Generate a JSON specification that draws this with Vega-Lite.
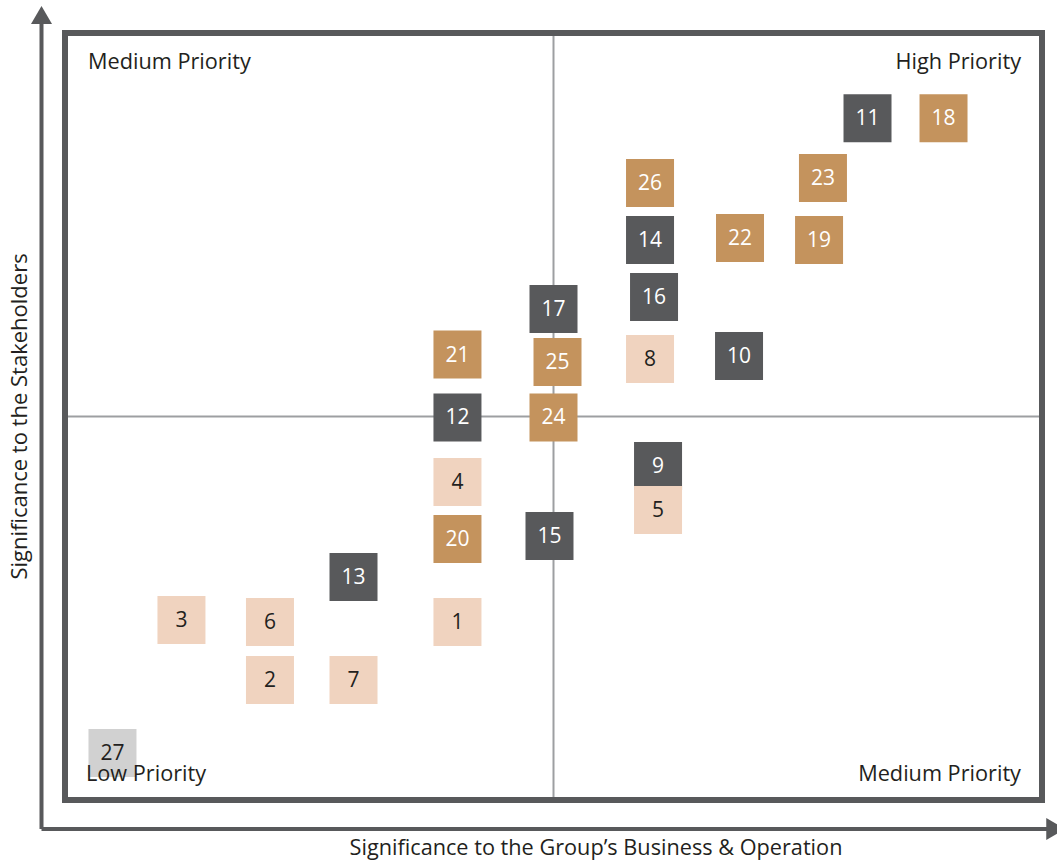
{
  "$schema": "https://vega.github.io/schema/vega-lite/v6.json",
  "width": 1057,
  "height": 862,
  "padding": 0,
  "autosize": "none",
  "background": "white",
  "config": {"view": {"stroke": null}},
  "datasets": {
    "items": [
      {"id": "11", "group": "A", "x": 8.214, "y": 8.888},
      {"id": "18", "group": "B", "x": 8.992, "y": 8.888},
      {"id": "26", "group": "B", "x": 5.988, "y": 8.044},
      {"id": "23", "group": "B", "x": 7.758, "y": 8.110},
      {"id": "14", "group": "A", "x": 5.988, "y": 7.301},
      {"id": "22", "group": "B", "x": 6.909, "y": 7.327},
      {"id": "19", "group": "B", "x": 7.718, "y": 7.301},
      {"id": "16", "group": "A", "x": 6.029, "y": 6.558},
      {"id": "17", "group": "A", "x": 5.0, "y": 6.402},
      {"id": "21", "group": "B", "x": 4.017, "y": 5.808},
      {"id": "25", "group": "B", "x": 5.041, "y": 5.711},
      {"id": "8", "group": "C", "x": 5.988, "y": 5.750},
      {"id": "10", "group": "A", "x": 6.899, "y": 5.789},
      {"id": "12", "group": "A", "x": 4.017, "y": 4.987},
      {"id": "24", "group": "B", "x": 5.0, "y": 4.987},
      {"id": "9", "group": "A", "x": 6.070, "y": 4.355},
      {"id": "5", "group": "C", "x": 6.070, "y": 3.781},
      {"id": "4", "group": "C", "x": 4.017, "y": 4.146},
      {"id": "20", "group": "B", "x": 4.017, "y": 3.403},
      {"id": "15", "group": "A", "x": 4.959, "y": 3.442},
      {"id": "13", "group": "A", "x": 2.953, "y": 2.907},
      {"id": "3", "group": "C", "x": 1.192, "y": 2.347},
      {"id": "6", "group": "C", "x": 2.098, "y": 2.321},
      {"id": "1", "group": "C", "x": 4.017, "y": 2.321},
      {"id": "2", "group": "C", "x": 2.098, "y": 1.565},
      {"id": "7", "group": "C", "x": 2.953, "y": 1.565},
      {"id": "27", "group": "D", "x": 0.486, "y": 0.613}
    ],
    "labels": [
      {"label": "Medium Priority", "x": 0.235, "y": 9.622, "side": "left"},
      {"label": "High Priority", "x": 9.785, "y": 9.622, "side": "right"},
      {"label": "Low Priority", "x": 0.215, "y": 0.339, "side": "left"},
      {"label": "Medium Priority", "x": 9.785, "y": 0.339, "side": "right"}
    ]
  },
  "encoding": {
    "x": {"field": "x", "type": "quantitative", "axis": null,
          "scale": {"domain": [-0.6653, 10.1535], "nice": false, "zero": false}},
    "y": {"field": "y", "type": "quantitative", "axis": null,
          "scale": {"domain": [-0.8083, 10.4302], "nice": false, "zero": false}}
  },
  "layer": [
    {
      "data": {"values": [
        {"x": 5.0, "x2": 5.0, "y": 0, "y2": 10},
        {"x": 0, "x2": 10, "y": 5.0, "y2": 5.0}
      ]},
      "mark": {"type": "rule", "stroke": "#9d9fa2", "strokeWidth": 2},
      "encoding": {"x2": {"field": "x2"}, "y2": {"field": "y2"}}
    },
    {
      "data": {"values": [{"x": 0, "x2": 10, "y": 0, "y2": 10}]},
      "mark": {"type": "rect", "fill": null, "fillOpacity": 0, "stroke": "#58595b", "strokeWidth": 6},
      "encoding": {"x2": {"field": "x2"}, "y2": {"field": "y2"}}
    },
    {
      "data": {"values": [
        {"x": -0.2405, "x2": -0.2405, "y": -0.378, "y2": 10.17},
        {"x": -0.2405, "x2": 10.06, "y": -0.378, "y2": -0.378}
      ]},
      "mark": {"type": "rule", "stroke": "#58595b", "strokeWidth": 4},
      "encoding": {"x2": {"field": "x2"}, "y2": {"field": "y2"}}
    },
    {
      "data": {"values": [{"x": -0.2405, "y": 10.235}]},
      "mark": {"type": "point", "shape": "M-1,0.857L0,-0.857L1,0.857Z", "size": 441, "filled": true, "fill": "#58595b", "opacity": 1, "strokeWidth": 0}
    },
    {
      "data": {"values": [{"x": 10.14, "y": -0.378}]},
      "mark": {"type": "point", "shape": "M-0.857,-1L0.857,0L-0.857,1Z", "size": 484, "filled": true, "fill": "#58595b", "opacity": 1, "strokeWidth": 0}
    },
    {
      "data": {"name": "items"},
      "mark": {"type": "square", "size": 2304, "opacity": 1},
      "encoding": {
        "color": {"field": "group", "type": "nominal", "legend": null,
                  "scale": {"domain": ["A", "B", "C", "D"], "range": ["#58595b", "#c4935d", "#f0d3bf", "#d1d1d1"]}}
      }
    },
    {
      "data": {"name": "items"},
      "mark": {"type": "text", "font": "Open Sans", "fontSize": 21, "align": "center", "baseline": "middle", "dy": 1},
      "encoding": {
        "text": {"field": "id"},
        "color": {"condition": {"test": "datum.group == 'C' || datum.group == 'D'", "value": "#231f20"}, "value": "#ffffff"}
      }
    },
    {
      "data": {"name": "labels"},
      "transform": [{"filter": "datum.side == 'left'"}],
      "mark": {"type": "text", "font": "Open Sans", "fontSize": 21.7, "align": "left", "baseline": "middle", "color": "#231f20"},
      "encoding": {"text": {"field": "label"}}
    },
    {
      "data": {"name": "labels"},
      "transform": [{"filter": "datum.side == 'right'"}],
      "mark": {"type": "text", "font": "Open Sans", "fontSize": 21.7, "align": "right", "baseline": "middle", "color": "#231f20"},
      "encoding": {"text": {"field": "label"}}
    },
    {
      "data": {"values": [{"label": "Significance to the Group’s Business & Operation", "x": 5.435, "y": -0.626}]},
      "mark": {"type": "text", "font": "Open Sans", "fontSize": 21.7, "align": "center", "baseline": "middle", "color": "#231f20"},
      "encoding": {"text": {"field": "label"}}
    },
    {
      "data": {"values": [{"label": "Significance to the Stakeholders", "x": -0.4606, "y": 5.0}]},
      "mark": {"type": "text", "font": "Open Sans", "fontSize": 22, "align": "center", "baseline": "middle", "angle": 270, "color": "#231f20"},
      "encoding": {"text": {"field": "label"}}
    }
  ]
}
